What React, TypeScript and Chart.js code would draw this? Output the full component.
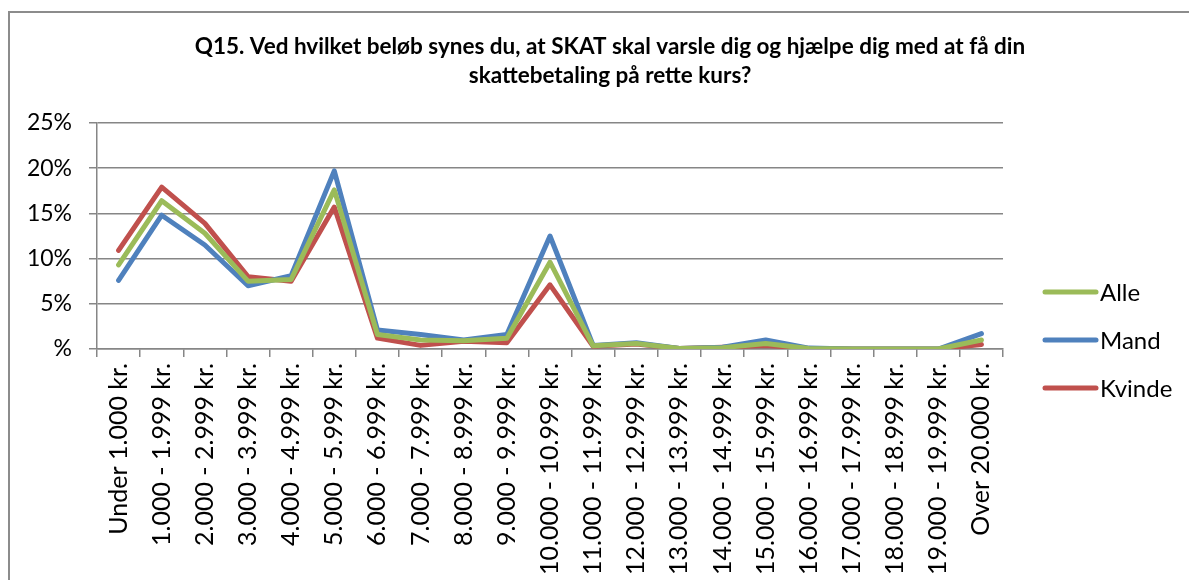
import React, { useEffect, useRef } from "react";
import { Chart, registerables } from "chart.js";

Chart.register(...registerables);

const categories = [
  "Under 1.000 kr.",
  "1.000 - 1.999 kr.",
  "2.000 - 2.999 kr.",
  "3.000 - 3.999 kr.",
  "4.000 - 4.999 kr.",
  "5.000 - 5.999 kr.",
  "6.000 - 6.999 kr.",
  "7.000 - 7.999 kr.",
  "8.000 - 8.999 kr.",
  "9.000 - 9.999 kr.",
  "10.000 - 10.999 kr.",
  "11.000 - 11.999 kr.",
  "12.000 - 12.999 kr.",
  "13.000 - 13.999 kr.",
  "14.000 - 14.999 kr.",
  "15.000 - 15.999 kr.",
  "16.000 - 16.999 kr.",
  "17.000 - 17.999 kr.",
  "18.000 - 18.999 kr.",
  "19.000 - 19.999 kr.",
  "Over 20.000 kr.",
];

const alle = [9.3, 16.4, 12.8, 7.5, 7.7, 17.6, 1.6, 1.0, 0.9, 1.2, 9.6, 0.35, 0.6, 0.05, 0.15, 0.6, 0.05, 0, 0, 0, 1.0];
const mand = [7.6, 14.8, 11.5, 7.0, 8.1, 19.7, 2.1, 1.6, 1.0, 1.6, 12.5, 0.4, 0.7, 0.05, 0.2, 1.0, 0.1, 0, 0, 0, 1.7];
const kvinde = [10.9, 17.9, 13.9, 8.0, 7.5, 15.7, 1.2, 0.4, 0.85, 0.7, 7.1, 0.3, 0.55, 0.05, 0.2, 0.4, 0.05, 0, 0, 0, 0.5];

const seriesNames = ["Alle", "Mand", "Kvinde"];
const seriesColors = ["#9BBB59", "#4F81BD", "#C0504D"];

const yTickValues = [0, 5, 10, 15, 20, 25];
const yTickLabels = ["%", "5%", "10%", "15%", "20%", "25%"];

const titleLines = [
  "Q15. Ved hvilket beløb synes du, at SKAT skal varsle dig og hjælpe dig med at få din",
  "skattebetaling på rette kurs?",
];

const FONT = "Lato, 'Open Sans', sans-serif";
const GRID = "#868686";

const W = 1189;
const H = 580;

export default function App() {
  const ref = useRef<HTMLCanvasElement | null>(null);

  useEffect(() => {
    const canvas = ref.current;
    if (!canvas) return;

    const decorPlugin = {
      id: "decor",
      beforeDraw(chart: any) {
        const ctx = chart.ctx;
        ctx.save();
        ctx.fillStyle = "#ffffff";
        ctx.fillRect(0, 0, W, H);
        ctx.strokeStyle = "#8c8c8c";
        ctx.lineWidth = 2;
        ctx.beginPath();
        ctx.moveTo(9, H + 2);
        ctx.lineTo(9, 12);
        ctx.lineTo(W + 2, 12);
        ctx.stroke();
        ctx.restore();
      },
      afterDraw(chart: any) {
        const ctx = chart.ctx;
        ctx.save();
        // title
        ctx.fillStyle = "#000000";
        ctx.font = `bold 22.5px ${FONT}`;
        ctx.textAlign = "center";
        ctx.textBaseline = "middle";
        titleLines.forEach((t, i) => {
          ctx.fillText(t, 610, 47 + i * 29);
        });
        // legend
        const legendY = [292, 340, 388];
        chart.data.datasets.forEach((ds: any, i: number) => {
          ctx.strokeStyle = ds.borderColor;
          ctx.lineWidth = 5;
          ctx.lineCap = "round";
          ctx.beginPath();
          ctx.moveTo(1045, legendY[i]);
          ctx.lineTo(1096, legendY[i]);
          ctx.stroke();
          ctx.fillStyle = "#000000";
          ctx.font = `24px ${FONT}`;
          ctx.textAlign = "left";
          ctx.textBaseline = "middle";
          ctx.fillText(ds.label, 1100, legendY[i] + 1);
        });
        ctx.restore();
      },
    };

    const chart = new Chart(canvas, {
      type: "line",
      data: {
        labels: categories,
        datasets: [alle, mand, kvinde].map((d, i) => ({
          label: seriesNames[i],
          data: d,
          borderColor: seriesColors[i],
          backgroundColor: seriesColors[i],
          borderWidth: 5,
          pointRadius: 0,
          pointHoverRadius: 0,
          tension: 0,
          borderJoinStyle: "round" as const,
          borderCapStyle: "round" as const,
          fill: false,
        })),
      },
      options: {
        animation: false,
        responsive: false,
        maintainAspectRatio: false,
        layout: { padding: { left: 0, top: 123, right: 186, bottom: 0 } },
        plugins: {
          legend: { display: false },
          title: { display: false },
          tooltip: { enabled: false },
        },
        scales: {
          x: {
            type: "category",
            offset: true,
            afterFit(scale: any) {
              scale.height = H - 349;
            },
            grid: {
              offset: true,
              drawOnChartArea: false,
              drawTicks: true,
              tickLength: 8,
              color: GRID,
              lineWidth: 1.5,
            },
            border: { display: true, color: GRID, width: 1.5 },
            ticks: {
              autoSkip: false,
              minRotation: 90,
              maxRotation: 90,
              padding: 6,
              color: "#000000",
              font: { family: FONT, size: 25 },
            },
          },
          y: {
            min: 0,
            max: 25,
            afterFit(scale: any) {
              scale.width = 97;
            },
            afterBuildTicks(scale: any) {
              scale.ticks = yTickValues.map((v) => ({ value: v }));
            },
            grid: {
              drawTicks: true,
              tickLength: 8,
              color: GRID,
              lineWidth: 1.5,
            },
            border: { display: true, color: GRID, width: 1.5 },
            ticks: {
              padding: 17,
              color: "#000000",
              font: { family: FONT, size: 23 },
              callback: (value: any) => {
                const idx = yTickValues.indexOf(Number(value));
                return idx >= 0 ? yTickLabels[idx] : "";
              },
            },
          },
        },
      },
      plugins: [decorPlugin],
    });

    return () => {
      chart.destroy();
    };
  }, []);

  return (
    <div style={{ position: "fixed", left: 0, top: 0, width: W, height: H, background: "#fff" }}>
      <canvas ref={ref} width={W} height={H} style={{ width: W, height: H, display: "block" }} />
    </div>
  );
}
